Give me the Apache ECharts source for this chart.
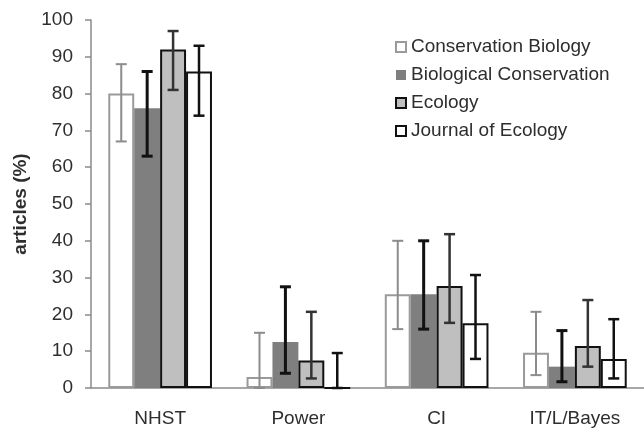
<!DOCTYPE html>
<html>
<head>
<meta charset="utf-8">
<script src="https://cdn.jsdelivr.net/npm/echarts@6/dist/echarts.min.js"></script>
<style>
  html, body { margin: 0; padding: 0; background: #fff; }
  #chart { width: 644px; height: 432px; }
</style>
</head>
<body>
<div id="chart"></div>
<script>
// categories and series
const categories = ["NHST", "Power", "CI", "IT/L/Bayes"];
const seriesNames = ["Conservation Biology", "Biological Conservation", "Ecology", "Journal of Ecology"];

// bar heights (%)
const consBio = [80, 3, 25.5, 9.6];
const bioCons = [76, 12.5, 25.5, 5.8];
const ecology = [92, 7.5, 27.7, 11.4];
const jEcology = [86, 0, 17.6, 7.9];

// error bar ends (low / high)
const consBioLow = [67, 0, 16, 3.5];
const consBioHigh = [88, 15, 40, 20.7];
const bioConsLow = [63, 4, 16, 1.7];
const bioConsHigh = [86, 27.5, 40, 15.6];
const ecologyLow = [81, 2.6, 17.7, 5.8];
const ecologyHigh = [97, 20.7, 41.8, 23.9];
const jEcologyLow = [74, 0, 7.9, 2.6];
const jEcologyHigh = [93, 9.5, 30.7, 18.7];

const fontFam = "'Liberation Sans', Arial, sans-serif";
const textColor = "#2e2e2e";

// bar look: fill, border color, border width
const barStyles = [
  { color: "#ffffff", borderColor: "#9a9a9a", borderWidth: 2 },
  { color: "#7f7f7f", borderColor: "#7f7f7f", borderWidth: 0 },
  { color: "#bfbfbf", borderColor: "#111111", borderWidth: 2 },
  { color: "#ffffff", borderColor: "#111111", borderWidth: 2 },
];
// error bar look
const errStyles = [
  { stroke: "#8c8c8c", lineWidth: 2 },
  { stroke: "#111111", lineWidth: 3 },
  { stroke: "#333333", lineWidth: 2.5 },
  { stroke: "#111111", lineWidth: 2.5 },
];

const values = [consBio, bioCons, ecology, jEcology];
const lows = [consBioLow, bioConsLow, ecologyLow, jEcologyLow];
const highs = [consBioHigh, bioConsHigh, ecologyHigh, jEcologyHigh];

const chart = echarts.init(document.getElementById("chart"), null, { renderer: "canvas" });

function errSeries(sIdx) {
  const data = categories.map((c, i) => [i, lows[sIdx][i], highs[sIdx][i]]);
  return {
    type: "custom",
    z: 10,
    silent: true,
    data: data,
    encode: { x: 0, y: [1, 2] },
    renderItem: function (params, api) {
      const cat = api.value(0);
      const lo = api.coord([cat, api.value(1)]);
      const hi = api.coord([cat, api.value(2)]);
      const catW = api.size([1, 0])[0];
      const bw = (catW * 0.75) / 4; // same as barCategoryGap 25%, 4 bars
      const x = lo[0] + (sIdx - 1.5) * bw;
      const cap = 5.5;
      const st = { stroke: errStyles[sIdx].stroke, lineWidth: errStyles[sIdx].lineWidth };
      return {
        type: "group",
        children: [
          { type: "line", shape: { x1: x, y1: lo[1], x2: x, y2: hi[1] }, style: st },
          { type: "line", shape: { x1: x - cap, y1: hi[1], x2: x + cap, y2: hi[1] }, style: st },
          { type: "line", shape: { x1: x - cap, y1: lo[1], x2: x + cap, y2: lo[1] }, style: st },
        ],
      };
    },
  };
}

const barSeries = seriesNames.map((name, k) => ({
  name: name,
  type: "bar",
  data: values[k],
  barGap: "0%",
  barCategoryGap: "25%",
  itemStyle: barStyles[k],
}));

chart.setOption({
  animation: false,
  textStyle: { fontFamily: fontFam },
  grid: { left: 91, right: 0, top: 20, bottom: 44 },
  legend: {
    data: seriesNames,
    orient: "vertical",
    left: 390,
    top: 32,
    icon: "rect",
    itemWidth: 10,
    itemHeight: 10,
    itemGap: 8,
    textStyle: { fontSize: 19, color: textColor, fontFamily: fontFam, lineHeight: 20 },
  },
  xAxis: {
    type: "category",
    data: categories,
    axisLine: { lineStyle: { color: "#8a8a8a", width: 1.5 } },
    axisTick: { show: false },
    axisLabel: { fontSize: 19, color: textColor, margin: 21 },
  },
  yAxis: {
    type: "value",
    min: 0,
    max: 100,
    interval: 10,
    name: "articles (%)",
    nameLocation: "middle",
    nameGap: 59,
    nameTextStyle: { fontSize: 19, fontWeight: "bold", color: textColor },
    axisLine: { show: true, lineStyle: { color: "#8a8a8a", width: 1.5 } },
    axisTick: { show: true, length: 6, lineStyle: { color: "#8a8a8a", width: 1.5 } },
    axisLabel: { fontSize: 19, color: textColor, margin: 18 },
    splitLine: { show: false },
  },
  series: barSeries.concat([0, 1, 2, 3].map(errSeries)),
});
</script>
</body>
</html>
